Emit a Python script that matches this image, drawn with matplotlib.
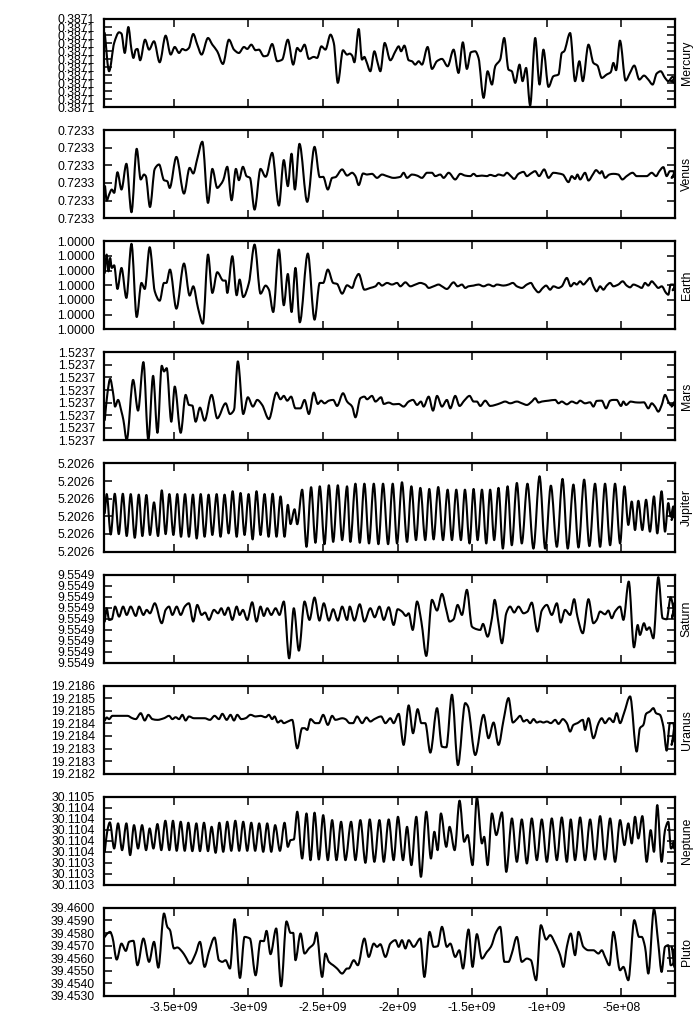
"""
Semi-major axis history of the nine planets, one panel per planet.
Values are stored in y-tick steps above the lowest tick of each panel,
time in Gyr (negative = past).
"""

import matplotlib
matplotlib.use('Agg')
import matplotlib.pyplot as plt
from matplotlib.ticker import FormatStrFormatter
from matplotlib.path import Path
from matplotlib.patches import PathPatch

plt.rcParams['font.family'] = ['Liberation Sans', 'DejaVu Sans']
plt.rcParams['font.size'] = 8.8

# ---- data: (time [Gyr], value [tick steps]) ----
mercury = [(-3.963, 9.25), (-3.934, 4.48), (-3.900, 8.01), (-3.867, 9.34), (-3.851, 9.17), (-3.829, 6.76),
           (-3.805, 10.0), (-3.784, 7.18), (-3.771, 6.14), (-3.755, 7.18), (-3.744, 7.26), (-3.726, 5.85),
           (-3.693, 8.42), (-3.666, 7.18), (-3.633, 8.22), (-3.595, 5.60), (-3.555, 8.92), (-3.521, 6.56),
           (-3.494, 7.51), (-3.465, 6.76), (-3.443, 7.26), (-3.421, 7.10), (-3.399, 7.39), (-3.370, 9.13),
           (-3.343, 7.80), (-3.314, 6.56), (-3.271, 8.63), (-3.242, 7.80), (-3.209, 6.97), (-3.171, 5.39),
           (-3.131, 8.42), (-3.097, 7.18), (-3.064, 6.76), (-3.030, 7.51), (-3.008, 7.26), (-2.981, 7.80),
           (-2.952, 7.10), (-2.930, 7.18), (-2.897, 6.35), (-2.874, 6.43), (-2.841, 7.88), (-2.807, 5.73),
           (-2.774, 5.93), (-2.736, 8.42), (-2.700, 5.31), (-2.673, 7.39), (-2.651, 6.97), (-2.624, 7.80),
           (-2.595, 6.02), (-2.562, 6.27), (-2.540, 6.14), (-2.511, 7.59), (-2.484, 7.18), (-2.450, 9.05),
           (-2.428, 8.01), (-2.401, 3.03), (-2.366, 7.10), (-2.339, 6.56), (-2.321, 6.68), (-2.305, 6.43),
           (-2.290, 5.60), (-2.261, 9.75), (-2.239, 5.93), (-2.223, 6.27), (-2.210, 5.73), (-2.183, 4.48),
           (-2.156, 6.97), (-2.134, 5.52), (-2.116, 4.48), (-2.087, 8.01), (-2.049, 5.85), (-2.015, 6.97),
           (-1.993, 7.59), (-1.977, 6.97), (-1.955, 7.68), (-1.926, 5.85), (-1.904, 5.73), (-1.882, 5.31),
           (-1.859, 5.73), (-1.837, 5.31), (-1.799, 7.51), (-1.770, 4.77), (-1.737, 5.73), (-1.703, 6.02),
           (-1.665, 5.10), (-1.625, 7.18), (-1.592, 4.27), (-1.563, 8.09), (-1.536, 4.77), (-1.509, 6.85),
           (-1.480, 6.97), (-1.458, 6.14), (-1.424, 1.16), (-1.397, 4.48), (-1.368, 2.82), (-1.346, 5.10),
           (-1.313, 5.93), (-1.286, 8.63), (-1.257, 4.69), (-1.235, 4.48), (-1.212, 3.03), (-1.183, 5.31),
           (-1.163, 3.24), (-1.139, 4.90), (-1.112, 0.21), (-1.078, 8.63), (-1.049, 2.82), (-1.023, 7.18),
           (-0.989, 2.53), (-0.956, 3.86), (-0.922, 4.07), (-0.900, 6.76), (-0.884, 6.97), (-0.844, 9.25),
           (-0.811, 3.24), (-0.782, 5.73), (-0.759, 3.24), (-0.721, 7.80), (-0.688, 5.52), (-0.661, 5.19),
           (-0.632, 3.65), (-0.599, 4.07), (-0.572, 4.36), (-0.554, 5.52), (-0.536, 4.61), (-0.510, 8.30),
           (-0.472, 3.32), (-0.443, 4.27), (-0.414, 5.19), (-0.380, 3.44), (-0.349, 3.94), (-0.320, 3.44),
           (-0.291, 2.82), (-0.264, 4.19), (-0.237, 4.48), (-0.208, 3.65), (-0.186, 3.24), (-0.157, 3.78),
           (-0.141, 3.53), (-0.168, 3.24), (-0.146, 3.03)]

venus = [(-3.961, 1.82), (-3.950, 1.00), (-3.934, 1.34), (-3.916, 1.63), (-3.900, 1.44), (-3.878, 2.61),
         (-3.851, 1.63), (-3.818, 3.09), (-3.784, 0.34), (-3.749, 3.94), (-3.722, 2.20), (-3.700, 2.48),
         (-3.688, 2.39), (-3.660, 0.64), (-3.628, 2.80), (-3.599, 3.05), (-3.566, 2.16), (-3.544, 2.10),
         (-3.528, 1.72), (-3.483, 3.48), (-3.432, 1.40), (-3.394, 2.86), (-3.370, 2.54), (-3.343, 3.37),
         (-3.309, 4.34), (-3.271, 0.87), (-3.242, 2.80), (-3.209, 1.72), (-3.187, 1.91), (-3.169, 2.16),
         (-3.142, 2.92), (-3.113, 1.02), (-3.084, 2.80), (-3.064, 2.16), (-3.037, 2.92), (-3.013, 2.39),
         (-2.990, 2.29), (-2.959, 0.49), (-2.919, 2.80), (-2.885, 2.35), (-2.841, 3.71), (-2.796, 0.72),
         (-2.763, 3.30), (-2.736, 1.82), (-2.711, 3.66), (-2.689, 1.63), (-2.658, 4.22), (-2.606, 0.93),
         (-2.557, 4.05), (-2.522, 2.33), (-2.499, 2.35), (-2.468, 1.63), (-2.439, 2.29), (-2.417, 2.33),
         (-2.372, 2.77), (-2.339, 2.42), (-2.305, 2.58), (-2.283, 2.39), (-2.261, 1.88), (-2.232, 2.54),
         (-2.205, 2.48), (-2.172, 2.52), (-2.138, 2.29), (-2.105, 2.48), (-2.071, 2.39), (-2.027, 2.29),
         (-1.982, 2.35), (-1.960, 2.58), (-1.937, 2.29), (-1.904, 2.48), (-1.870, 2.42), (-1.837, 2.29),
         (-1.803, 2.58), (-1.770, 2.58), (-1.748, 2.39), (-1.714, 2.48), (-1.692, 2.29), (-1.658, 2.58),
         (-1.614, 2.20), (-1.580, 2.52), (-1.547, 2.42), (-1.513, 2.39), (-1.491, 2.52), (-1.469, 2.39),
         (-1.435, 2.42), (-1.402, 2.39), (-1.380, 2.46), (-1.346, 2.39), (-1.324, 2.48), (-1.290, 2.42),
         (-1.268, 2.58), (-1.241, 2.39), (-1.219, 2.23), (-1.190, 2.52), (-1.156, 2.63), (-1.134, 2.39),
         (-1.107, 2.54), (-1.078, 2.67), (-1.052, 2.39), (-1.018, 2.77), (-0.989, 2.29), (-0.956, 2.58),
         (-0.922, 2.54), (-0.893, 2.48), (-0.855, 2.05), (-0.833, 2.39), (-0.811, 2.23), (-0.795, 2.48),
         (-0.777, 2.20), (-0.744, 2.58), (-0.721, 2.14), (-0.692, 2.48), (-0.670, 2.73), (-0.643, 2.54),
         (-0.632, 2.67), (-0.610, 2.29), (-0.581, 2.48), (-0.554, 2.52), (-0.521, 2.48), (-0.494, 2.20),
         (-0.465, 2.39), (-0.425, 2.58), (-0.398, 2.39), (-0.364, 2.39), (-0.331, 2.39), (-0.297, 2.58),
         (-0.268, 2.39), (-0.246, 2.67), (-0.219, 2.90), (-0.197, 2.39), (-0.175, 2.67), (-0.152, 2.67),
         (-0.141, 2.39), (-0.164, 2.29), (-0.146, 2.58)]

earth = [(-3.963, 3.84), (-3.950, 5.09), (-3.938, 3.95), (-3.927, 4.86), (-3.916, 4.18), (-3.900, 4.36),
         (-3.878, 2.75), (-3.851, 4.18), (-3.818, 2.14), (-3.784, 5.82), (-3.749, 0.84), (-3.717, 3.16),
         (-3.695, 2.75), (-3.662, 5.59), (-3.628, 2.59), (-3.595, 1.95), (-3.566, 3.16), (-3.550, 3.16),
         (-3.526, 4.07), (-3.483, 1.41), (-3.432, 4.48), (-3.394, 2.30), (-3.370, 2.93), (-3.338, 1.45),
         (-3.305, 0.39), (-3.271, 5.09), (-3.242, 2.48), (-3.209, 3.89), (-3.169, 3.32), (-3.153, 3.32),
         (-3.142, 2.48), (-3.108, 4.98), (-3.079, 2.32), (-3.059, 3.39), (-3.035, 2.20), (-2.997, 3.16),
         (-2.959, 5.77), (-2.919, 2.43), (-2.885, 2.98), (-2.863, 2.70), (-2.834, 1.18), (-2.796, 5.43),
         (-2.763, 1.64), (-2.736, 3.77), (-2.711, 1.18), (-2.685, 4.18), (-2.656, 0.48), (-2.602, 5.16),
         (-2.557, 0.66), (-2.522, 3.16), (-2.499, 3.16), (-2.468, 4.07), (-2.432, 3.16), (-2.406, 3.09),
         (-2.372, 2.43), (-2.339, 3.00), (-2.305, 2.82), (-2.283, 3.43), (-2.261, 3.77), (-2.223, 2.70),
         (-2.183, 2.82), (-2.149, 2.93), (-2.127, 3.16), (-2.105, 2.98), (-2.071, 3.16), (-2.038, 3.05),
         (-2.004, 3.16), (-1.982, 2.93), (-1.948, 3.20), (-1.915, 2.93), (-1.881, 3.05), (-1.848, 3.16),
         (-1.815, 3.05), (-1.792, 2.82), (-1.759, 2.93), (-1.725, 3.05), (-1.703, 2.93), (-1.670, 2.75),
         (-1.625, 3.20), (-1.598, 2.93), (-1.569, 3.05), (-1.547, 2.82), (-1.525, 2.93), (-1.491, 2.98),
         (-1.458, 3.05), (-1.424, 2.93), (-1.391, 3.05), (-1.357, 2.93), (-1.335, 3.05), (-1.290, 2.98),
         (-1.257, 3.05), (-1.228, 3.16), (-1.201, 2.93), (-1.167, 2.82), (-1.134, 3.05), (-1.107, 3.16),
         (-1.085, 2.82), (-1.056, 2.52), (-1.027, 2.82), (-1.005, 2.98), (-0.978, 2.70), (-0.956, 2.93),
         (-0.922, 2.82), (-0.900, 2.93), (-0.866, 3.50), (-0.840, 2.93), (-0.817, 3.16), (-0.800, 3.05),
         (-0.777, 3.27), (-0.755, 3.05), (-0.733, 3.27), (-0.710, 3.50), (-0.688, 2.93), (-0.666, 2.59),
         (-0.643, 2.93), (-0.621, 2.70), (-0.599, 2.98), (-0.576, 3.16), (-0.554, 2.93), (-0.521, 3.05),
         (-0.492, 3.27), (-0.465, 2.98), (-0.442, 2.86), (-0.420, 3.05), (-0.387, 2.93), (-0.364, 2.82),
         (-0.342, 3.16), (-0.320, 2.98), (-0.297, 3.27), (-0.275, 3.05), (-0.253, 2.82), (-0.230, 2.93),
         (-0.201, 2.48), (-0.186, 2.36), (-0.170, 3.05), (-0.152, 3.05), (-0.141, 2.82), (-0.157, 2.66),
         (-0.146, 2.82)]

mars = [(-3.963, 1.62), (-3.945, 3.75), (-3.927, 4.89), (-3.907, 3.75), (-3.894, 2.69), (-3.874, 3.22),
        (-3.851, 2.29), (-3.838, 1.62), (-3.816, 0.03), (-3.773, 4.81), (-3.740, 2.37), (-3.704, 6.22),
        (-3.671, 0.03), (-3.639, 5.13), (-3.610, 0.61), (-3.581, 5.93), (-3.566, 5.48), (-3.548, 5.74),
        (-3.517, 1.49), (-3.494, 4.28), (-3.454, 0.61), (-3.421, 3.62), (-3.399, 2.82), (-3.376, 2.77),
        (-3.354, 1.49), (-3.325, 2.61), (-3.294, 1.57), (-3.247, 3.62), (-3.209, 1.76), (-3.153, 2.95),
        (-3.124, 2.10), (-3.097, 2.42), (-3.071, 6.28), (-3.035, 2.10), (-3.004, 3.43), (-2.970, 2.69),
        (-2.941, 3.22), (-2.908, 2.82), (-2.863, 1.70), (-2.812, 3.80), (-2.785, 3.27), (-2.763, 3.54),
        (-2.740, 3.16), (-2.714, 3.48), (-2.685, 2.55), (-2.651, 2.55), (-2.624, 3.22), (-2.595, 2.10),
        (-2.562, 3.80), (-2.535, 2.90), (-2.513, 3.16), (-2.490, 2.95), (-2.461, 3.16), (-2.432, 3.22),
        (-2.406, 2.74), (-2.366, 3.75), (-2.339, 3.09), (-2.305, 2.69), (-2.283, 1.84), (-2.250, 3.35),
        (-2.223, 3.48), (-2.205, 3.27), (-2.172, 3.54), (-2.149, 3.09), (-2.111, 3.43), (-2.093, 2.90),
        (-2.060, 3.01), (-2.027, 2.87), (-1.993, 2.90), (-1.960, 2.69), (-1.926, 3.09), (-1.897, 3.22),
        (-1.870, 2.82), (-1.844, 3.09), (-1.826, 2.69), (-1.792, 3.48), (-1.763, 2.37), (-1.736, 3.54),
        (-1.703, 2.69), (-1.670, 3.22), (-1.647, 2.55), (-1.614, 3.54), (-1.585, 2.74), (-1.554, 3.16),
        (-1.518, 3.54), (-1.491, 3.09), (-1.469, 3.09), (-1.446, 2.74), (-1.413, 3.16), (-1.380, 2.74),
        (-1.346, 2.82), (-1.313, 2.95), (-1.279, 3.09), (-1.246, 2.95), (-1.201, 3.09), (-1.167, 2.95),
        (-1.134, 2.82), (-1.101, 3.09), (-1.078, 3.35), (-1.056, 3.01), (-1.034, 3.09), (-0.989, 3.16),
        (-0.944, 3.22), (-0.922, 2.95), (-0.900, 3.09), (-0.866, 2.87), (-0.833, 3.09), (-0.799, 2.95),
        (-0.777, 3.16), (-0.744, 2.95), (-0.710, 3.03), (-0.688, 2.69), (-0.666, 3.14), (-0.632, 3.16),
        (-0.603, 2.55), (-0.576, 3.16), (-0.554, 3.22), (-0.532, 3.22), (-0.503, 2.74), (-0.487, 3.09),
        (-0.469, 2.82), (-0.438, 3.09), (-0.409, 3.03), (-0.376, 3.01), (-0.349, 3.03), (-0.320, 2.55),
        (-0.297, 2.95), (-0.275, 2.69), (-0.253, 2.29), (-0.230, 2.82), (-0.208, 3.62), (-0.186, 3.09),
        (-0.170, 2.82), (-0.152, 2.95), (-0.141, 3.09), (-0.164, 2.69), (-0.146, 2.90)]

jupiter = [(-3.963, 2.18), (-3.950, 3.26), (-3.923, 0.97), (-3.896, 3.28), (-3.869, 0.99), (-3.842, 3.28),
           (-3.816, 0.88), (-3.789, 3.26), (-3.762, 0.78), (-3.735, 3.23), (-3.711, 0.88), (-3.684, 3.21),
           (-3.660, 0.94), (-3.633, 2.79), (-3.606, 0.88), (-3.581, 3.47), (-3.555, 0.99), (-3.530, 3.26),
           (-3.503, 0.94), (-3.477, 3.26), (-3.452, 0.84), (-3.425, 3.26), (-3.399, 0.84), (-3.372, 3.23),
           (-3.347, 0.74), (-3.320, 3.26), (-3.294, 0.84), (-3.267, 3.23), (-3.242, 0.94), (-3.213, 3.26),
           (-3.187, 0.84), (-3.160, 3.23), (-3.133, 1.03), (-3.106, 3.42), (-3.079, 0.84), (-3.053, 3.32),
           (-3.026, 0.94), (-2.999, 3.26), (-2.972, 0.69), (-2.946, 3.42), (-2.919, 0.94), (-2.892, 3.26),
           (-2.865, 0.84), (-2.838, 3.28), (-2.812, 0.84), (-2.785, 3.13), (-2.758, 0.84), (-2.736, 2.65),
           (-2.718, 1.56), (-2.691, 2.40), (-2.673, 1.55), (-2.640, 3.51), (-2.611, 0.27), (-2.580, 3.65),
           (-2.551, 0.50), (-2.522, 3.70), (-2.490, 0.42), (-2.461, 3.76), (-2.432, 0.55), (-2.401, 3.76),
           (-2.372, 0.65), (-2.339, 3.70), (-2.317, 0.55), (-2.283, 3.85), (-2.254, 0.50), (-2.223, 3.85),
           (-2.192, 0.46), (-2.160, 3.85), (-2.129, 0.42), (-2.098, 3.85), (-2.064, 0.42), (-2.033, 3.85),
           (-2.004, 0.46), (-1.971, 3.93), (-1.937, 0.55), (-1.908, 3.70), (-1.877, 0.65), (-1.848, 3.61),
           (-1.815, 0.65), (-1.788, 3.55), (-1.759, 0.69), (-1.728, 3.66), (-1.696, 0.65), (-1.665, 3.51),
           (-1.636, 0.65), (-1.607, 3.51), (-1.576, 0.65), (-1.549, 3.51), (-1.518, 0.46), (-1.491, 3.55),
           (-1.464, 0.65), (-1.435, 3.51), (-1.406, 0.46), (-1.380, 3.51), (-1.353, 0.65), (-1.324, 3.61),
           (-1.295, 0.17), (-1.263, 3.70), (-1.235, 0.36), (-1.201, 3.89), (-1.168, 0.46), (-1.130, 3.85),
           (-1.090, 0.17), (-1.049, 4.27), (-1.011, 0.17), (-0.973, 3.74), (-0.933, 0.27), (-0.895, 4.12),
           (-0.860, 0.17), (-0.822, 3.80), (-0.788, 0.23), (-0.750, 4.08), (-0.715, 0.31), (-0.677, 3.85),
           (-0.643, 0.27), (-0.610, 3.85), (-0.576, 0.36), (-0.543, 3.85), (-0.509, 0.46), (-0.480, 3.70),
           (-0.454, 1.51), (-0.431, 2.84), (-0.409, 1.22), (-0.387, 2.88), (-0.360, 1.22), (-0.335, 2.94),
           (-0.309, 1.13), (-0.282, 3.13), (-0.260, 1.03), (-0.231, 3.42), (-0.208, 1.13), (-0.186, 2.75),
           (-0.170, 1.98), (-0.152, 2.56), (-0.141, 2.18), (-0.164, 1.79), (-0.146, 2.37)]

saturn = [(-3.963, 3.73), (-3.950, 4.94), (-3.934, 3.88), (-3.916, 3.94), (-3.894, 5.09), (-3.867, 4.18),
          (-3.840, 5.09), (-3.816, 4.33), (-3.789, 5.09), (-3.755, 4.24), (-3.733, 5.09), (-3.704, 4.33),
          (-3.682, 4.79), (-3.660, 4.48), (-3.628, 5.39), (-3.581, 3.58), (-3.555, 4.79), (-3.532, 5.09),
          (-3.510, 4.33), (-3.481, 5.09), (-3.454, 4.33), (-3.427, 5.09), (-3.399, 5.39), (-3.370, 3.73),
          (-3.343, 5.24), (-3.314, 4.33), (-3.291, 4.55), (-3.265, 3.88), (-3.231, 4.79), (-3.204, 4.48),
          (-3.182, 4.94), (-3.160, 4.33), (-3.135, 5.00), (-3.108, 3.88), (-3.079, 5.09), (-3.059, 4.33),
          (-3.037, 4.79), (-3.008, 3.88), (-2.975, 5.48), (-2.946, 3.73), (-2.919, 5.09), (-2.897, 4.24),
          (-2.874, 4.94), (-2.847, 4.33), (-2.818, 4.94), (-2.792, 4.33), (-2.763, 5.55), (-2.727, 0.39),
          (-2.696, 4.94), (-2.662, 1.09), (-2.624, 5.55), (-2.591, 3.88), (-2.557, 5.91), (-2.524, 3.82),
          (-2.495, 5.39), (-2.461, 3.82), (-2.432, 4.85), (-2.401, 3.82), (-2.372, 5.09), (-2.339, 3.88),
          (-2.321, 5.09), (-2.290, 3.82), (-2.254, 5.30), (-2.223, 3.73), (-2.183, 4.94), (-2.154, 4.12),
          (-2.122, 5.09), (-2.093, 3.88), (-2.060, 5.03), (-2.027, 3.42), (-2.000, 4.85), (-1.971, 4.64),
          (-1.944, 4.24), (-1.926, 4.48), (-1.899, 2.97), (-1.870, 5.55), (-1.841, 3.73), (-1.808, 0.61),
          (-1.770, 5.70), (-1.736, 4.73), (-1.703, 6.24), (-1.674, 4.79), (-1.652, 3.73), (-1.625, 3.94),
          (-1.598, 5.24), (-1.569, 4.33), (-1.536, 6.61), (-1.502, 3.27), (-1.469, 3.03), (-1.446, 2.97),
          (-1.428, 3.52), (-1.397, 2.36), (-1.368, 4.03), (-1.350, 5.70), (-1.324, 3.58), (-1.301, 1.76),
          (-1.272, 4.48), (-1.246, 5.09), (-1.219, 4.55), (-1.190, 5.09), (-1.156, 4.48), (-1.130, 4.64),
          (-1.101, 5.45), (-1.063, 2.82), (-1.034, 4.73), (-1.000, 5.24), (-0.967, 4.33), (-0.933, 5.39),
          (-0.907, 3.64), (-0.878, 4.79), (-0.844, 4.33), (-0.817, 5.76), (-0.795, 4.18), (-0.759, 2.67),
          (-0.721, 5.76), (-0.688, 3.58), (-0.666, 3.88), (-0.643, 4.64), (-0.610, 4.39), (-0.588, 4.73),
          (-0.565, 4.03), (-0.543, 4.64), (-0.509, 5.09), (-0.487, 3.88), (-0.451, 7.36), (-0.416, 1.39),
          (-0.391, 3.42), (-0.376, 2.52), (-0.349, 3.58), (-0.331, 2.97), (-0.313, 3.21), (-0.286, 2.21),
          (-0.253, 7.76), (-0.224, 4.03), (-0.197, 3.94), (-0.170, 5.94), (-0.146, 4.79), (-0.161, 4.03),
          (-0.143, 5.45)]

uranus = [(-3.963, 4.23), (-3.950, 4.47), (-3.934, 4.34), (-3.912, 4.60), (-3.856, 4.60), (-3.811, 4.60),
          (-3.778, 4.41), (-3.755, 4.34), (-3.722, 4.81), (-3.695, 4.23), (-3.671, 4.68), (-3.644, 4.34),
          (-3.610, 4.28), (-3.566, 4.41), (-3.532, 4.60), (-3.510, 4.34), (-3.488, 4.49), (-3.465, 4.34),
          (-3.443, 4.68), (-3.421, 4.23), (-3.399, 4.55), (-3.365, 4.41), (-3.332, 4.41), (-3.294, 4.41),
          (-3.258, 4.28), (-3.227, 4.60), (-3.198, 4.34), (-3.175, 4.76), (-3.146, 4.28), (-3.120, 4.68),
          (-3.097, 4.23), (-3.075, 4.68), (-3.048, 4.34), (-3.019, 4.41), (-2.986, 4.68), (-2.952, 4.55),
          (-2.919, 4.60), (-2.885, 4.49), (-2.863, 4.68), (-2.841, 4.34), (-2.825, 4.55), (-2.803, 4.07),
          (-2.781, 4.23), (-2.763, 4.02), (-2.736, 4.15), (-2.707, 4.28), (-2.673, 2.02), (-2.640, 3.62),
          (-2.624, 3.62), (-2.606, 3.48), (-2.584, 4.34), (-2.551, 4.02), (-2.528, 4.02), (-2.499, 4.68),
          (-2.468, 3.88), (-2.439, 4.60), (-2.417, 4.28), (-2.395, 4.34), (-2.372, 4.41), (-2.350, 4.34),
          (-2.321, 4.02), (-2.299, 4.02), (-2.272, 4.55), (-2.238, 4.02), (-2.209, 4.47), (-2.183, 4.15),
          (-2.156, 4.34), (-2.111, 4.55), (-2.082, 4.02), (-2.049, 4.41), (-2.027, 4.02), (-1.993, 4.76),
          (-1.960, 2.29), (-1.926, 5.43), (-1.897, 3.22), (-1.866, 5.13), (-1.841, 4.02), (-1.815, 4.02),
          (-1.781, 1.68), (-1.736, 5.21), (-1.703, 2.15), (-1.674, 2.10), (-1.636, 6.28), (-1.596, 0.69),
          (-1.547, 5.61), (-1.529, 5.35), (-1.480, 1.49), (-1.424, 4.68), (-1.391, 2.82), (-1.357, 4.07),
          (-1.324, 2.29), (-1.290, 4.28), (-1.257, 6.01), (-1.228, 4.07), (-1.201, 4.34), (-1.179, 4.60),
          (-1.156, 4.15), (-1.134, 4.28), (-1.112, 4.02), (-1.089, 4.34), (-1.067, 4.07), (-1.045, 4.15),
          (-1.023, 4.07), (-1.000, 4.15), (-0.973, 4.02), (-0.944, 4.28), (-0.922, 3.96), (-0.893, 4.34),
          (-0.866, 4.02), (-0.844, 3.35), (-0.822, 3.88), (-0.795, 4.02), (-0.759, 4.28), (-0.744, 3.48),
          (-0.721, 4.41), (-0.688, 2.82), (-0.654, 4.02), (-0.632, 4.41), (-0.610, 4.02), (-0.581, 4.41),
          (-0.554, 4.10), (-0.532, 4.81), (-0.509, 4.02), (-0.483, 4.81), (-0.442, 6.14), (-0.398, 1.76),
          (-0.376, 3.62), (-0.353, 3.88), (-0.335, 4.76), (-0.309, 4.95), (-0.286, 5.21), (-0.268, 4.81),
          (-0.242, 4.68), (-0.219, 3.75), (-0.197, 1.84), (-0.175, 4.02), (-0.152, 4.02), (-0.141, 2.95),
          (-0.164, 2.29), (-0.146, 3.75)]

neptune = [(-3.963, 3.00), (-3.945, 4.97), (-3.929, 5.67), (-3.900, 3.30), (-3.874, 5.58), (-3.847, 3.15),
           (-3.818, 5.58), (-3.793, 2.70), (-3.767, 5.42), (-3.740, 3.30), (-3.713, 5.42), (-3.686, 3.15),
           (-3.662, 5.12), (-3.637, 3.30), (-3.610, 5.52), (-3.584, 3.15), (-3.557, 5.82), (-3.530, 3.15),
           (-3.506, 5.82), (-3.481, 3.09), (-3.454, 5.73), (-3.427, 3.09), (-3.403, 5.64), (-3.376, 3.06),
           (-3.349, 5.58), (-3.325, 3.06), (-3.298, 5.64), (-3.271, 3.06), (-3.247, 5.27), (-3.220, 2.91),
           (-3.195, 5.64), (-3.169, 3.00), (-3.142, 5.73), (-3.115, 3.09), (-3.088, 5.82), (-3.062, 3.09),
           (-3.035, 5.73), (-3.008, 3.09), (-2.981, 5.64), (-2.955, 3.09), (-2.928, 5.58), (-2.901, 3.00),
           (-2.874, 5.58), (-2.847, 3.00), (-2.821, 5.42), (-2.789, 3.09), (-2.758, 5.64), (-2.736, 3.45),
           (-2.718, 4.06), (-2.696, 4.12), (-2.673, 6.64), (-2.640, 2.39), (-2.611, 6.48), (-2.584, 2.24),
           (-2.557, 6.55), (-2.528, 2.30), (-2.499, 6.33), (-2.468, 2.24), (-2.439, 5.88), (-2.410, 2.24),
           (-2.379, 5.73), (-2.350, 2.24), (-2.312, 5.73), (-2.283, 2.24), (-2.250, 5.88), (-2.216, 2.00),
           (-2.187, 5.94), (-2.156, 2.09), (-2.122, 5.88), (-2.093, 2.09), (-2.060, 5.94), (-2.027, 2.24),
           (-1.998, 6.18), (-1.964, 2.24), (-1.937, 5.27), (-1.908, 1.79), (-1.875, 6.18), (-1.844, 0.73),
           (-1.808, 6.64), (-1.777, 2.39), (-1.754, 4.82), (-1.732, 3.15), (-1.710, 6.48), (-1.674, 3.45),
           (-1.652, 5.27), (-1.618, 3.15), (-1.585, 7.64), (-1.554, 3.91), (-1.531, 4.52), (-1.498, 1.79),
           (-1.469, 7.94), (-1.435, 3.76), (-1.420, 4.36), (-1.397, 1.79), (-1.368, 6.48), (-1.339, 4.52),
           (-1.301, 6.58), (-1.272, 1.18), (-1.234, 6.03), (-1.201, 2.09), (-1.168, 5.94), (-1.134, 1.94),
           (-1.101, 6.03), (-1.067, 2.24), (-1.034, 5.94), (-1.000, 2.09), (-0.967, 6.03), (-0.933, 2.24),
           (-0.900, 6.12), (-0.866, 2.09), (-0.840, 5.94), (-0.811, 2.24), (-0.777, 6.12), (-0.744, 2.24),
           (-0.710, 5.94), (-0.677, 2.30), (-0.643, 6.24), (-0.610, 2.30), (-0.576, 6.03), (-0.543, 2.09),
           (-0.509, 5.88), (-0.480, 3.61), (-0.454, 5.58), (-0.431, 3.76), (-0.409, 6.18), (-0.387, 4.21),
           (-0.360, 6.24), (-0.331, 2.09), (-0.304, 4.97), (-0.282, 3.00), (-0.260, 7.24), (-0.231, 2.09),
           (-0.208, 4.97), (-0.186, 5.73), (-0.168, 3.30), (-0.152, 3.61), (-0.141, 4.06), (-0.159, 3.76),
           (-0.146, 3.30)]

pluto = [(-3.963, 4.69), (-3.950, 4.91), (-3.927, 5.09), (-3.912, 4.69), (-3.883, 2.89), (-3.851, 4.16),
         (-3.822, 3.58), (-3.800, 4.30), (-3.771, 4.38), (-3.744, 2.44), (-3.704, 4.56), (-3.666, 2.71),
         (-3.633, 4.30), (-3.604, 2.25), (-3.566, 6.55), (-3.544, 5.49), (-3.526, 5.23), (-3.499, 3.77),
         (-3.477, 3.85), (-3.443, 3.50), (-3.421, 3.10), (-3.392, 2.57), (-3.354, 3.37), (-3.325, 4.30),
         (-3.294, 2.31), (-3.265, 3.50), (-3.227, 4.64), (-3.198, 2.84), (-3.175, 2.71), (-3.153, 2.84),
         (-3.124, 2.18), (-3.093, 6.10), (-3.057, 1.43), (-3.026, 4.69), (-2.990, 4.56), (-2.952, 1.64),
         (-2.919, 4.38), (-2.897, 4.35), (-2.879, 5.17), (-2.852, 3.32), (-2.814, 5.36), (-2.781, 0.77),
         (-2.745, 5.92), (-2.718, 5.01), (-2.700, 5.01), (-2.685, 2.84), (-2.651, 4.96), (-2.624, 3.37),
         (-2.595, 3.77), (-2.562, 4.16), (-2.544, 5.04), (-2.506, 1.51), (-2.484, 3.37), (-2.461, 2.71),
         (-2.432, 2.44), (-2.406, 2.18), (-2.372, 1.78), (-2.339, 2.18), (-2.328, 2.18), (-2.294, 2.84),
         (-2.267, 2.44), (-2.223, 4.56), (-2.194, 3.10), (-2.160, 4.16), (-2.138, 3.90), (-2.116, 4.11),
         (-2.082, 3.10), (-2.049, 4.16), (-2.015, 4.43), (-1.993, 3.90), (-1.971, 4.43), (-1.948, 3.77),
         (-1.926, 4.43), (-1.893, 3.90), (-1.848, 4.56), (-1.821, 1.51), (-1.786, 5.09), (-1.759, 3.90),
         (-1.732, 3.95), (-1.703, 5.49), (-1.670, 3.90), (-1.647, 4.16), (-1.614, 3.10), (-1.587, 3.63),
         (-1.562, 2.18), (-1.525, 5.28), (-1.498, 2.31), (-1.469, 4.91), (-1.435, 2.97), (-1.402, 3.50),
         (-1.375, 3.90), (-1.339, 5.09), (-1.313, 5.49), (-1.284, 2.71), (-1.257, 2.71), (-1.235, 3.37),
         (-1.201, 4.69), (-1.168, 2.71), (-1.134, 2.97), (-1.107, 2.84), (-1.072, 1.25), (-1.040, 5.62),
         (-1.005, 4.48), (-0.978, 4.83), (-0.944, 4.16), (-0.911, 3.24), (-0.889, 2.31), (-0.866, 3.90),
         (-0.840, 4.96), (-0.811, 3.24), (-0.788, 5.09), (-0.755, 3.90), (-0.721, 3.63), (-0.688, 3.63),
         (-0.654, 3.37), (-0.632, 3.63), (-0.610, 3.10), (-0.581, 2.44), (-0.554, 5.09), (-0.509, 2.04),
         (-0.487, 2.31), (-0.454, 1.25), (-0.414, 6.02), (-0.382, 4.69), (-0.364, 4.69), (-0.342, 3.90),
         (-0.320, 1.78), (-0.282, 6.90), (-0.253, 4.16), (-0.231, 1.91), (-0.208, 3.90), (-0.186, 4.03),
         (-0.170, 2.44), (-0.152, 2.57), (-0.141, 3.50), (-0.164, 3.90), (-0.146, 2.31)]

# y tick labels, bottom to top, as printed on the chart
mercury_ticks = ['0.3871'] * 12
venus_ticks = ['0.7233'] * 6
earth_ticks = ['1.0000'] * 7
mars_ticks = ['1.5237'] * 8
jupiter_ticks = ['5.2026'] * 6
saturn_ticks = ['9.5549'] * 9
uranus_ticks = ['19.2182', '19.2183', '19.2183', '19.2184', '19.2184', '19.2185', '19.2185', '19.2186']
neptune_ticks = ['30.1103'] * 3 + ['30.1104'] * 5 + ['30.1105']
pluto_ticks = ['39.4530', '39.4540', '39.4550', '39.4560', '39.4570', '39.4580', '39.4590', '39.4600']

planet_names = ['Mercury', 'Venus', 'Earth', 'Mars', 'Jupiter', 'Saturn', 'Uranus', 'Neptune', 'Pluto']
x_ticks = [-3.5e9, -3e9, -2.5e9, -2e9, -1.5e9, -1e9, -5e8]
x_range = (-3.968e9, -0.141e9)


def smooth_path(t, v):
    """Bezier path through the points, monotone (pchip-like) tangents so no overshoot."""
    n = len(t)
    d = []
    for i in range(n - 1):
        dx = t[i + 1] - t[i]
        d.append((v[i + 1] - v[i]) / dx if dx != 0 else 0.0)
    s = [0.0] * n
    s[0], s[-1] = d[0], d[-1]
    for i in range(1, n - 1):
        if d[i - 1] * d[i] > 0:
            s[i] = 2.0 / (1.0 / d[i - 1] + 1.0 / d[i])
    verts = [(t[0], v[0])]
    codes = [Path.MOVETO]
    for i in range(n - 1):
        h = (t[i + 1] - t[i]) / 3.0
        verts += [(t[i] + h, v[i] + s[i] * h),
                  (t[i + 1] - h, v[i + 1] - s[i + 1] * h),
                  (t[i + 1], v[i + 1])]
        codes += [Path.CURVE4] * 3
    return Path(verts, codes)


def plot_planets():
    series = [mercury, venus, earth, mars, jupiter, saturn, uranus, neptune, pluto]
    tick_sets = [mercury_ticks, venus_ticks, earth_ticks, mars_ticks, jupiter_ticks,
                 saturn_ticks, uranus_ticks, neptune_ticks, pluto_ticks]

    fig, axes = plt.subplots(9, 1, figsize=(7, 10.21), dpi=100, sharex=True)
    fig.subplots_adjust(left=0.1486, right=0.9643, top=0.9814, bottom=0.0245, hspace=0.26)

    for ax, name, data, ticks in zip(axes, planet_names, series, tick_sets):
        t = [p[0] * 1e9 for p in data]
        v = [p[1] for p in data]
        ax.add_patch(PathPatch(smooth_path(t, v), fill=False, edgecolor='black',
                               linewidth=1.5, joinstyle='round', capstyle='round'))

        ax.set_xlim(*x_range)
        ax.set_ylim(0, len(ticks) - 1)
        ax.set_xticks(x_ticks)
        ax.set_yticks(range(len(ticks)))
        ax.set_yticklabels(ticks)

        ax.tick_params(direction='in', top=True, right=True, length=5.5, width=1.1)
        ax.tick_params(axis='y', pad=6.5)
        ax.tick_params(axis='x', pad=4)
        ax.yaxis.set_label_position('right')
        ax.set_ylabel(name, labelpad=4)
        for spine in ax.spines.values():
            spine.set_linewidth(1.6)

    axes[-1].xaxis.set_major_formatter(FormatStrFormatter('%g'))

    fig.savefig('out.png', dpi=100)
    plt.close(fig)


if __name__ == '__main__':
    plot_planets()
